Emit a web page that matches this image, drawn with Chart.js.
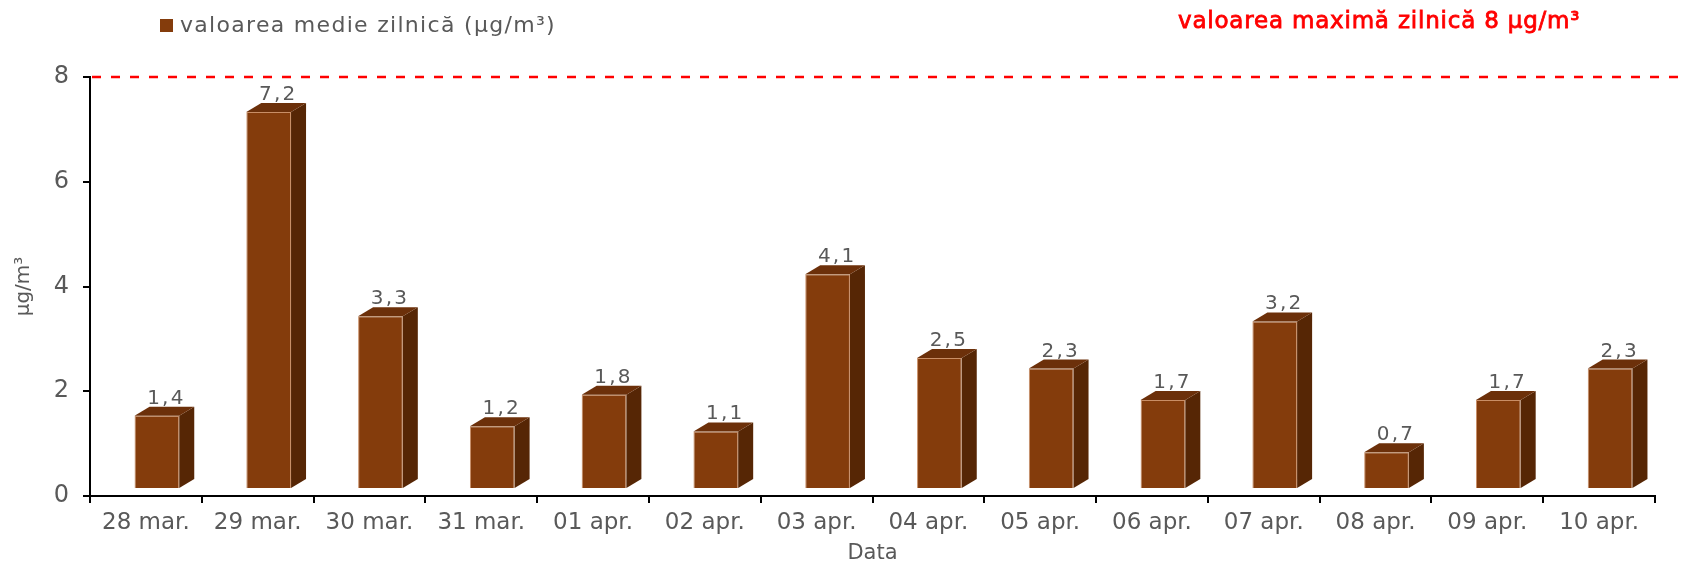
<!DOCTYPE html>
<html>
<head>
<meta charset="utf-8">
<script src="https://cdn.jsdelivr.net/npm/chart.js@4"></script>
<style>
    body { margin: 0; background: #fff; }
    #wrap { width: 1682px; height: 566px; }
</style>
</head>
<body>
<div id="wrap"><canvas id="chartMedii" width="1682" height="566"></canvas></div>
<script>
const zile = ['28 mar.', '29 mar.', '30 mar.', '31 mar.', '01 apr.', '02 apr.', '03 apr.',
    '04 apr.', '05 apr.', '06 apr.', '07 apr.', '08 apr.', '09 apr.', '10 apr.'];
const mediiZilnice = [1.4, 7.2, 3.3, 1.2, 1.8, 1.1, 4.1, 2.5, 2.3, 1.7, 3.2, 0.7, 1.7, 2.3];
const valoareMaxima = 8;
const ticksY = [0, 2, 4, 6, 8];

const FONT = 'DejaVu Sans';
const GRI = '#595959';
const MARO = '#843C0C';
const MARO_LATERAL = '#562605';
const MARO_SUS = '#6C300A';

// decalaj pentru efectul 3D
const ADANC_X = 15, ADANC_Y = 9, MUTARE_X = 11, MUTARE_Y = 7;

const efect3D = {
    id: 'efect3D',
    beforeDatasetsDraw(chart) {
        chart.ctx.save();
        chart.ctx.translate(MUTARE_X, -MUTARE_Y);
    },
    afterDatasetsDraw(chart) {
        const ctx = chart.ctx;
        const meta = chart.getDatasetMeta(0);
        meta.data.forEach((bar, i) => {
            const st = bar.x - bar.width / 2, dr = bar.x + bar.width / 2;
            const sus = bar.y, jos = bar.base;
            ctx.fillStyle = MARO_LATERAL;
            ctx.beginPath();
            ctx.moveTo(dr, sus);
            ctx.lineTo(dr + ADANC_X, sus - ADANC_Y);
            ctx.lineTo(dr + ADANC_X, jos - ADANC_Y);
            ctx.lineTo(dr, jos);
            ctx.closePath();
            ctx.fill();
            ctx.fillStyle = MARO_SUS;
            ctx.beginPath();
            ctx.moveTo(st, sus);
            ctx.lineTo(st + ADANC_X, sus - ADANC_Y);
            ctx.lineTo(dr + ADANC_X, sus - ADANC_Y);
            ctx.lineTo(dr, sus);
            ctx.closePath();
            ctx.fill();

            ctx.fillStyle = GRI;
            ctx.font = '20px ' + FONT;
            ctx.letterSpacing = '2.2px';
            ctx.textAlign = 'center';
            ctx.textBaseline = 'alphabetic';
            const eticheta = mediiZilnice[i].toFixed(1).replace('.', ',');
            ctx.fillText(eticheta, bar.x + ADANC_X / 2 + 2, sus - ADANC_Y - 3);
        });
        ctx.restore();

        // linia valorii maxime
        const y = chart.scales.y.getPixelForValue(valoareMaxima);
        ctx.save();
        ctx.strokeStyle = '#FF0000';
        ctx.lineWidth = 2.5;
        ctx.setLineDash([9, 10]);
        ctx.beginPath();
        ctx.moveTo(chart.chartArea.left + 2, y);
        ctx.lineTo(chart.width, y);
        ctx.stroke();
        ctx.restore();
    },
    afterDraw(chart) {
        const ctx = chart.ctx;
        ctx.save();
        // legenda
        ctx.fillStyle = MARO;
        ctx.fillRect(160, 19, 13, 13);
        ctx.fillStyle = GRI;
        ctx.font = '22px ' + FONT;
        ctx.letterSpacing = '1.3px';
        ctx.textBaseline = 'middle';
        ctx.textAlign = 'left';
        ctx.fillText(chart.data.datasets[0].label, 180, 26);
        // textul valorii maxime
        const textMax = 'valoarea maximă zilnică 8 µg/m³';
        ctx.fillStyle = '#FF0000';
        ctx.strokeStyle = '#FF0000';
        ctx.lineWidth = 0.8;
        ctx.font = '23px ' + FONT;
        ctx.letterSpacing = '0.8px';
        ctx.fillText(textMax, 1178, 22);
        ctx.strokeText(textMax, 1178, 22);
        ctx.restore();
    }
};

new Chart(document.getElementById('chartMedii'), {
    type: 'bar',
    data: {
        labels: zile,
        datasets: [{
            label: 'valoarea medie zilnică (µg/m³)',
            data: mediiZilnice,
            backgroundColor: MARO,
            borderColor: '#C98E66',
            borderWidth: 1,
            categoryPercentage: 1,
            barPercentage: 0.4
        }]
    },
    options: {
        responsive: false,
        animation: false,
        layout: { padding: { top: 77, right: 27, left: 0, bottom: 0 } },
        plugins: {
            legend: { display: false },
            tooltip: { enabled: false }
        },
        scales: {
            x: {
                afterFit: s => { s.height = 70; },
                grid: { drawOnChartArea: false, tickLength: 7, color: '#000', lineWidth: 2 },
                border: { color: '#000', width: 2 },
                ticks: { color: GRI, font: { family: FONT, size: 23 }, padding: 6, maxRotation: 0 },
                title: { display: true, text: 'Data', color: GRI, font: { family: FONT, size: 21 }, padding: 0 }
            },
            y: {
                min: 0,
                max: 8,
                afterFit: s => { s.width = 90; },
                afterBuildTicks: s => { s.ticks = ticksY.map(v => ({ value: v })); },
                grid: { drawOnChartArea: false, tickLength: 7, color: '#000', lineWidth: 2 },
                border: { color: '#000', width: 2 },
                ticks: { color: GRI, font: { family: FONT, size: 24 }, padding: 14 },
                title: { display: true, text: 'µg/m³', color: GRI, font: { family: FONT, size: 20 }, padding: 12 }
            }
        }
    },
    plugins: [efect3D]
});
</script>
</body>
</html>
